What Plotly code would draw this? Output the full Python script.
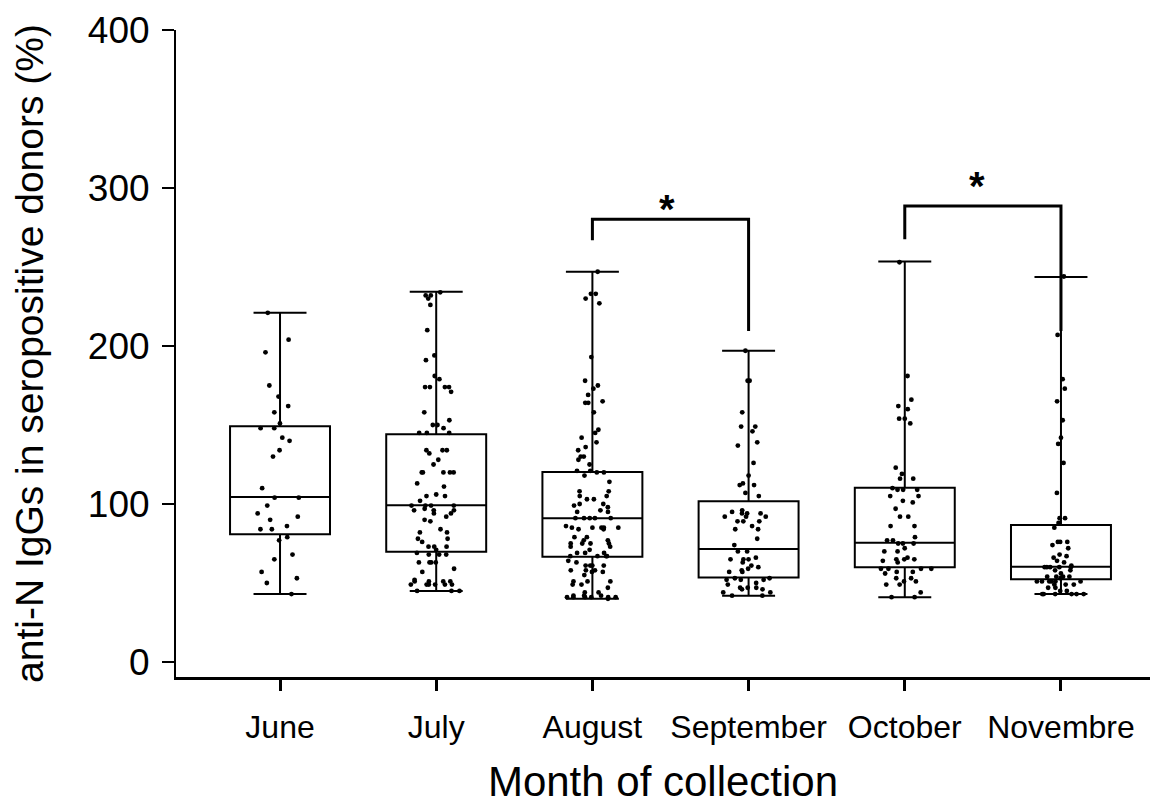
import plotly.graph_objects as go

months = ["June", "July", "August", "September", "October", "Novembre"]

# box statistics (whiskers = min / max)
q1 = [80.8, 69.8, 66.6, 53.4, 59.9, 52.3]
median = [104.4, 99.2, 90.9, 71.5, 75.5, 60.3]
q3 = [149.2, 144.1, 120.3, 101.7, 110.3, 86.7]
low = [43, 45, 40, 42, 41, 43]
high = [221, 234.4, 247, 197, 253.4, 243.7]

june = [221, 204, 196, 175, 168, 162, 158, 151, 148, 148, 142, 140, 134, 130, 110,
        104, 104, 99, 94, 92, 90, 86, 84, 84, 79, 77, 68, 65, 57, 53, 50, 43]
july = [234, 232, 232, 230, 226, 210, 194, 191, 181, 179, 174, 174, 174, 174, 171,
        158, 153, 150, 150, 148, 145, 145, 145, 134, 134, 134, 132, 128, 125, 120,
        120, 120, 120, 120, 113, 111, 106, 105, 105, 102, 99, 99, 99, 99, 97, 96,
        96, 96, 94, 94, 92, 90, 89, 84, 82, 82, 78, 78, 76, 73, 73, 73, 71, 69, 68,
        68, 68, 63, 63, 63, 63, 59, 57, 52, 51, 51, 51, 51, 49, 49, 49, 49, 49, 49,
        45, 45, 45]
august = [247, 233, 233, 230, 227, 193, 178, 175, 173, 169, 165, 164, 164, 158, 147,
          145, 142, 139, 136, 134, 130, 130, 128, 125, 121, 121, 120, 120, 118, 114,
          108, 108, 105, 105, 103, 103, 100, 100, 99, 98, 96, 95, 95, 91, 91, 91, 91,
          91, 86, 85, 85, 85, 85, 85, 84, 84, 79, 79, 77, 77, 75, 75, 75, 75, 73, 73,
          71, 69, 69, 69, 67, 67, 67, 67, 64, 63, 61, 61, 61, 61, 58, 58, 58, 57, 57,
          55, 51, 51, 51, 49, 49, 47, 44, 44, 42, 42, 42, 41, 41, 41, 41, 41, 41, 40]
september = [197, 178, 178, 158, 149, 149, 146, 139, 137, 126, 118, 113, 112, 112,
             107, 105, 96, 95, 94, 94, 94, 92, 92, 92, 89, 89, 89, 86, 84, 84, 78, 74,
             70, 70, 66, 65, 65, 65, 63, 61, 60, 59, 58, 57, 57, 53, 53, 52, 52, 52,
             50, 49, 47, 47, 47, 46, 46, 44, 44, 42, 42]
october = [253, 181, 166, 162, 160, 154, 154, 151, 123, 119, 116, 116, 110, 109, 109,
           109, 105, 105, 102, 101, 97, 92, 92, 86, 86, 79, 77, 77, 75, 75, 75, 72,
           70, 70, 66, 65, 65, 65, 64, 63, 59, 59, 59, 59, 57, 57, 56, 53, 53, 51, 51,
           49, 49, 44, 41, 41]
novembre = [244, 207, 179, 173, 165, 153, 142, 138, 126, 107, 91, 91, 88, 85, 76, 76,
            76, 74, 72, 68, 67, 66, 64, 63, 61, 60, 60, 60, 60, 60, 58, 58, 56, 54, 54,
            54, 54, 53, 51, 51, 51, 51, 51, 51, 49, 49, 49, 47, 47, 45, 45, 43, 43, 43,
            43, 43, 43]

points = [june, july, august, september, october, novembre]

# significance brackets: (left index, right index, top y, left leg bottom, right leg bottom)
brackets = [(2, 3, 280.2, 267, 209.5), (4, 5, 288.6, 267.5, 209.5)]
star_labels = ["*", "*"]
star_x = [2.48, 4.46]
star_y = [291, 306]

FONT = "Liberation Sans, Arial, Helvetica, sans-serif"
BOXW = 0.64

fig = go.Figure()
for i, m in enumerate(months):
    fig.add_trace(go.Box(
        x=[i], q1=[q1[i]], median=[median[i]], q3=[q3[i]],
        lowerfence=[low[i]], upperfence=[high[i]],
        width=BOXW, whiskerwidth=0.53, boxpoints=False,
        line=dict(color="black", width=2), fillcolor="rgba(0,0,0,0)",
        name=m, showlegend=False))
    fig.add_trace(go.Box(
        x=[i] * len(points[i]), y=points[i], width=BOXW,
        boxpoints="all", jitter=0.6, pointpos=0,
        line=dict(color="rgba(0,0,0,0)", width=0), fillcolor="rgba(0,0,0,0)",
        marker=dict(color="black", size=4.8),
        name=m, showlegend=False, hoveron="points"))

shapes = []
annotations = []
for (a, b, top, lb, rb), lab, sx, sy in zip(brackets, star_labels, star_x, star_y):
    shapes.append(dict(type="path", xref="x", yref="y",
                       path=f"M {a},{lb} L {a},{top} L {b},{top} L {b},{rb}",
                       line=dict(color="black", width=3)))
    annotations.append(dict(x=sx, y=sy, xref="x", yref="y",
                            text="<b>" + lab + "</b>", showarrow=False,
                            yanchor="bottom", yshift=-31,
                            font=dict(family=FONT, size=40, color="black")))

# page body has an 8px default margin -> figure is 8px smaller, margins shifted
fig.update_layout(
    width=1152, height=797,
    margin=dict(l=168, r=10, t=22, b=128),
    plot_bgcolor="white", paper_bgcolor="white",
    boxmode="overlay",
    font=dict(family=FONT, color="black"),
    shapes=shapes, annotations=annotations,
    xaxis=dict(range=[-0.666, 5.57], tickvals=list(range(6)), ticktext=months,
               showline=True, linewidth=3, linecolor="black",
               ticks="outside", ticklen=11, tickwidth=3, tickcolor="black",
               tickfont=dict(size=32), showgrid=False, zeroline=False,
               automargin=False, ticklabelstandoff=9,
               title=dict(text="Month of collection", font=dict(size=42), standoff=34)),
    yaxis=dict(range=[-9.5, 400], tickvals=[0, 100, 200, 300, 400],
               showline=True, linewidth=2, linecolor="black",
               ticks="outside", ticklen=12, tickwidth=2, tickcolor="black",
               tickfont=dict(size=37), showgrid=False, zeroline=False,
               automargin=False, ticklabelstandoff=5,
               title=dict(text="anti-N IgGs in seropositive donors (%)",
                          font=dict(size=39), standoff=36)),
)

fig.write_html("out.html")
